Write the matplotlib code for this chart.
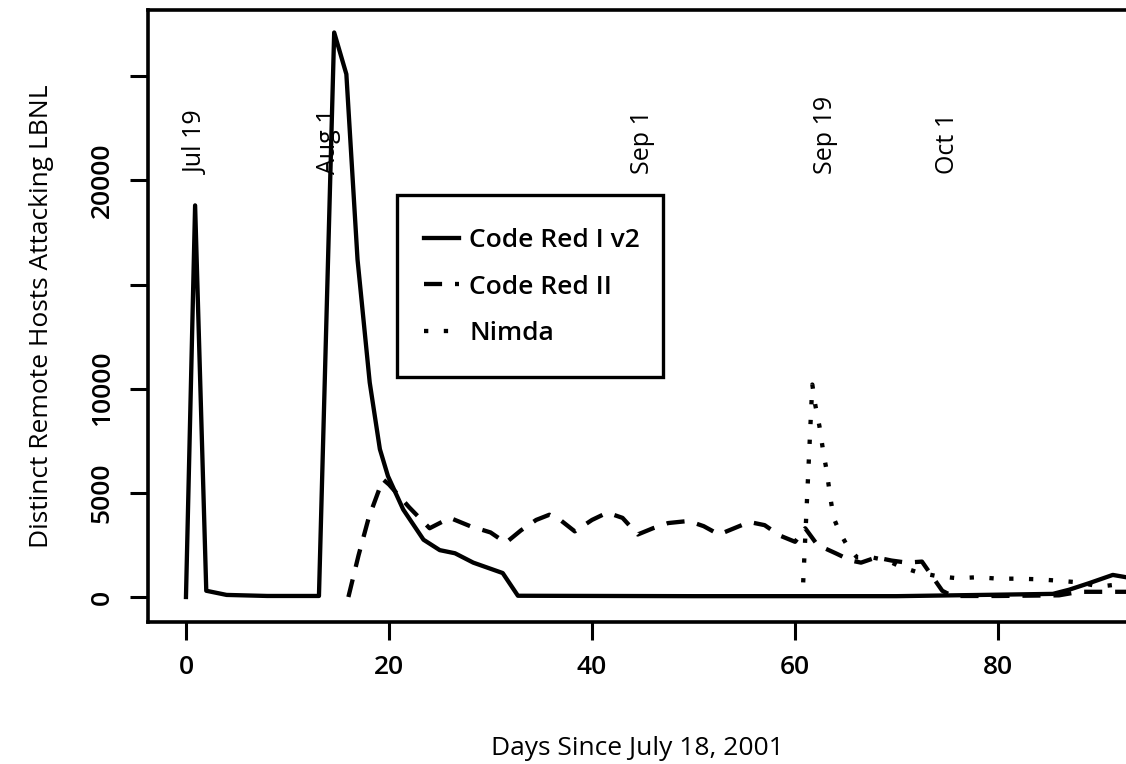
import matplotlib
matplotlib.use("Agg")
import matplotlib.pyplot as plt
from matplotlib.patches import Rectangle

plt.rcParams['font.family'] = ['Open Sans', 'DejaVu Sans']

# Code Red I v2 (solid)
cr1_days = [0, 0.9, 2.0, 4, 8, 13.1, 14.6, 15.8, 16.9, 18.1, 19.1, 19.9, 21.4, 23.4,
            25, 26.5, 28.3, 31.2, 32.7, 50, 70, 85.4, 87, 89, 91.3, 92.6]
cr1_hosts = [0, 18800, 300, 100, 50, 50, 27100, 25100, 16200, 10300, 7100, 5800, 4200, 2750,
             2250, 2100, 1650, 1150, 60, 40, 40, 150, 350, 670, 1060, 950]

# Code Red II (dashed)
cr2_days = [16, 17, 18, 19.4, 20, 22, 24, 26, 28, 30, 31.5, 33, 34.5, 35.8, 37, 38.3,
            40, 41.5, 43, 44.5, 46, 47.5, 49.5, 51, 52.5, 54, 55.5, 57, 58.5, 60, 61,
            62.2, 64, 65.5, 66.5, 68, 69.5, 71, 72.5, 73.5, 74.5, 75.5, 80, 86, 88, 92.6]
cr2_hosts = [0, 2000, 3800, 5650, 5400, 4300, 3300, 3800, 3400, 3100, 2600, 3200, 3700, 3950, 3650, 3150,
             3700, 4050, 3800, 3000, 3300, 3550, 3650, 3400, 3000, 3300, 3600, 3450, 2950, 2650, 3300,
             2500, 2100, 1750, 1650, 1900, 1750, 1650, 1700, 1000, 300, 50, 50, 80, 250, 250]

# Nimda (dotted)
nimda_days = [60.8, 61.7, 62.0, 62.4, 62.8, 63.1, 63.5, 63.8, 64.4, 65.1, 66.1, 67.6, 69.1,
              70.4, 72, 74, 76, 78, 80, 82, 84, 86, 88, 90, 92.6]
nimda_hosts = [700, 10200, 9200, 8200, 6900, 6100, 4700, 3800, 3100, 2500, 1900, 1900, 1750,
               1450, 1200, 1000, 900, 950, 880, 880, 850, 780, 700, 500, 650]

# event markers
event_days = [1, 14, 45, 63, 75]
event_labels = ["Jul 19", "Aug 1", "Sep 1", "Sep 19", "Oct 1"]

xticks = [0, 20, 40, 60, 80]
yticks = [0, 5000, 10000, 15000, 20000, 25000]
ytick_labels = ["0", "5000", "10000", "", "20000", ""]

fig = plt.figure(figsize=(11.26, 7.64), dpi=100)
ax = fig.add_axes([148/1126, 142/764, 1 - 148/1126, 612/764])

lw = 3.1
ax.plot(cr1_days, cr1_hosts, color='black', lw=lw, ls='-', label='Code Red I v2')
ax.plot(cr2_days, cr2_hosts, color='black', lw=lw, ls=(0, (4.2, 3)), label='Code Red II')
ax.plot(nimda_days, nimda_hosts, color='black', lw=lw, ls=(0, (1, 3.6)), label='Nimda')

for d, lab in zip(event_days, event_labels):
    ax.text(d, 20300, lab, rotation=90, ha='center', va='bottom', fontsize=18)

ax.set_xlim(-3.74, 92.6)
ax.set_ylim(-1200, 28180)

ax.set_xticks(xticks)
ax.set_yticks(yticks)
ax.set_yticklabels(ytick_labels, rotation=90, va='center')
ax.tick_params(axis='both', direction='out', length=13, width=2.2, pad=11,
               labelsize=19)
for t in ax.get_xticklabels() + ax.get_yticklabels():
    t.set_fontweight('semibold')

for s in ['left', 'bottom', 'top']:
    ax.spines[s].set_linewidth(2.6)
ax.spines['right'].set_visible(False)

ax.set_xlabel('Days Since July 18, 2001', fontsize=19, labelpad=40)
ax.set_ylabel('Distinct Remote Hosts Attacking LBNL', fontsize=19, labelpad=26)

# legend box
ax.add_patch(Rectangle((249/978, 245/612), 266/978, 182/612, transform=ax.transAxes,
                       facecolor='white', edgecolor='black', lw=2.4, zorder=4))
leg = ax.legend(loc='center left', bbox_to_anchor=(252/978, 335/612), frameon=False,
                fontsize=19, handlelength=1.35, handletextpad=0.38, labelspacing=0.82)
leg.set_zorder(5)
for t in leg.get_texts():
    t.set_fontweight('semibold')

fig.savefig('out.png', dpi=100)
